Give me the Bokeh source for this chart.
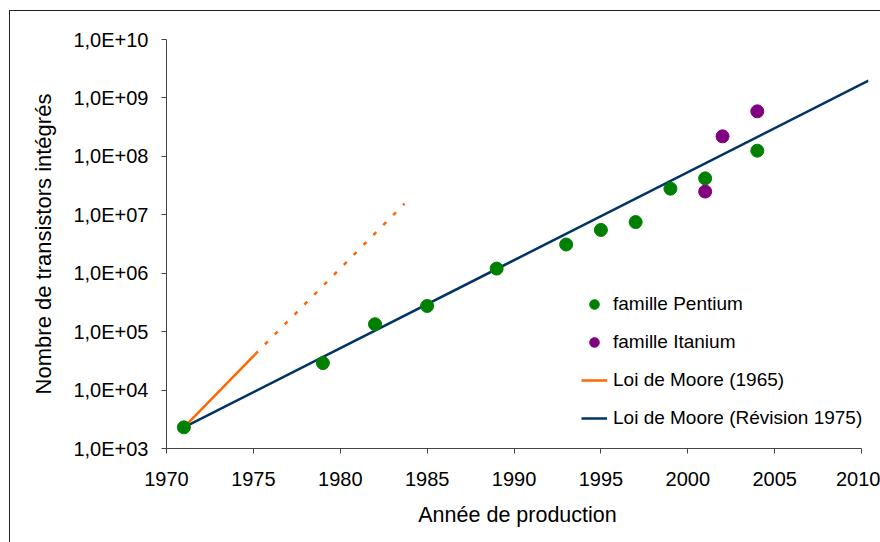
from bokeh.plotting import figure
from bokeh.models import Range1d, FixedTicker, Legend, LegendItem
from bokeh.embed import file_html
from bokeh.resources import INLINE

# ---- data ----
pentium_years = [1971, 1979, 1982, 1985, 1989, 1993, 1995, 1997, 1999, 2001, 2004]
pentium_counts = [2300, 29000, 134000, 275000, 1.2e6, 3.1e6, 5.5e6, 7.5e6, 2.8e7, 4.2e7, 1.25e8]

itanium_years = [2001, 2002, 2004]
itanium_counts = [2.5e7, 2.2e8, 5.9e8]

moore1965_years = [1971, 1975.1]
moore1965_counts = [2300, 4.1e4]
moore1965_ext_years = [1975.1, 1983.7]
moore1965_ext_counts = [4.1e4, 1.55e7]

moore1975_years = [1971, 2010.4]
moore1975_counts = [2300, 1.97e9]

x_ticks = [1970, 1975, 1980, 1985, 1990, 1995, 2000, 2005, 2010]
y_ticks = [10**3, 10**4, 10**5, 10**6, 10**7, 10**8, 10**9, 10**10]
y_tick_labels = ["1,0E+03", "1,0E+04", "1,0E+05", "1,0E+06",
                 "1,0E+07", "1,0E+08", "1,0E+09", "1,0E+10"]

FONT = "Liberation Sans"

p = figure(width=880, height=542, y_axis_type="log",
           x_range=Range1d(1970, 2010.4), y_range=Range1d(1e3, 1e10),
           output_backend="svg", toolbar_location=None,
           min_border_left=166, min_border_right=12,
           min_border_top=39, min_border_bottom=94)
p.background_fill_color = "white"
p.border_fill_color = "white"
p.outline_line_color = None
p.xgrid.grid_line_color = None
p.ygrid.grid_line_color = None

# outer chart-area frame (left and top edges visible, the rest is cut off)
p.stylesheets = [""":host { position: relative; }
:host::after {
  content: ""; position: absolute; left: 8.5px; top: 9.8px; right: 0; bottom: 0;
  border-left: 1.5px solid #222; border-top: 1.5px solid #222;
  pointer-events: none; z-index: 100;
}"""]

for ax in (p.xaxis[0], p.yaxis[0]):
    ax.axis_line_color = "#444444"
    ax.axis_line_width = 1
    ax.major_tick_line_color = "#444444"
    ax.major_tick_in = 0
    ax.major_tick_out = 5
    ax.minor_tick_line_color = None
    ax.major_label_text_font = FONT
    ax.major_label_text_font_size = "20px"
    ax.major_label_text_color = "black"
    ax.axis_label_text_font = FONT
    ax.axis_label_text_font_size = "21.5px"
    ax.axis_label_text_font_style = "normal"
    ax.axis_label_text_color = "black"

p.xaxis.ticker = FixedTicker(ticks=x_ticks)
p.xaxis.bounds = (1970, 2010)
p.xaxis.major_label_standoff = 18
p.xaxis.axis_label = "Année de production"
p.xaxis.axis_label_standoff = 14

p.yaxis.ticker = FixedTicker(ticks=y_ticks, minor_ticks=[])
p.yaxis.major_label_overrides = dict(zip(y_ticks, y_tick_labels))
p.yaxis.major_label_standoff = 13
p.yaxis.axis_label = "Nombre de transistors intégrés"
p.yaxis.axis_label_text_font_size = "22px"
p.yaxis.axis_label_standoff = 14

# lines
r_1975 = p.line(moore1975_years, moore1975_counts, line_color="#003366", line_width=2.5)
r_1965 = p.line(moore1965_years, moore1965_counts, line_color="#FF6600", line_width=2.5)
p.line(moore1965_ext_years, moore1965_ext_counts, line_color="#FF6600",
       line_width=2.5, line_dash="4 10")

# points
r_pent = p.scatter(pentium_years, pentium_counts, size=13, fill_color="#008000",
                   line_color="#008000")
r_ita = p.scatter(itanium_years, itanium_counts, size=13, fill_color="#800080",
                  line_color="#800080")

legend = Legend(items=[
    LegendItem(label="famille Pentium", renderers=[r_pent]),
    LegendItem(label="famille Itanium", renderers=[r_ita]),
    LegendItem(label="Loi de Moore (1965)", renderers=[r_1965]),
    LegendItem(label="Loi de Moore (Révision 1975)", renderers=[r_1975]),
], location=(415, 18))
legend.padding = 0
legend.margin = 0
legend.border_line_color = None
legend.background_fill_alpha = 0
legend.glyph_width = 26
legend.glyph_height = 24
legend.label_height = 24
legend.spacing = 14
legend.label_standoff = 6
legend.label_text_font = FONT
legend.label_text_font_size = "19px"
legend.label_text_color = "black"
p.add_layout(legend, "center")

open("out.html", "w").write(file_html(p, INLINE))
